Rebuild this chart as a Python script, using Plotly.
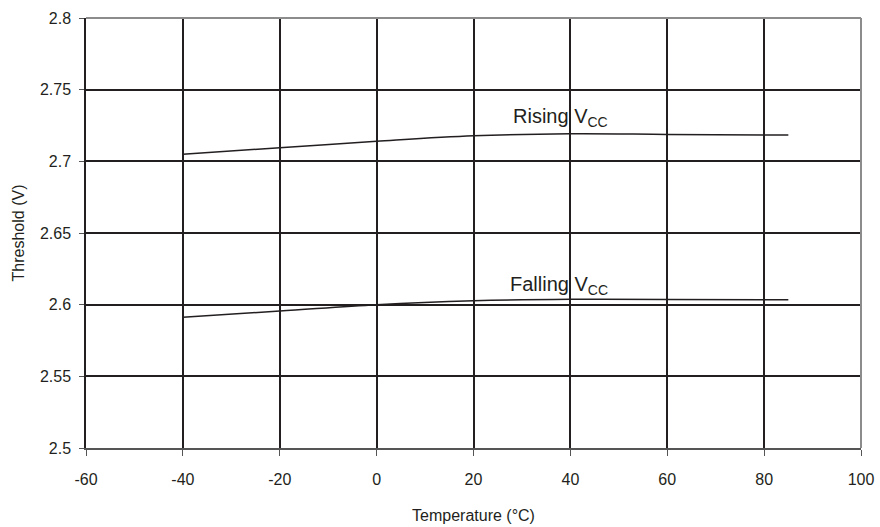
from plotly import graph_objects as go

temps = [-40, -20, 0, 20, 40, 60, 85]
rising_vcc = [2.705, 2.7095, 2.714, 2.7178, 2.7192, 2.7188, 2.7183]
falling_vcc = [2.5913, 2.5955, 2.600, 2.6027, 2.6037, 2.6036, 2.6034]

x_ticks = [-60, -40, -20, 0, 20, 40, 60, 80, 100]
x_labels = ['-60', '-40', '-20', '0', '20', '40', '60', '80', '100']
y_ticks = [2.5, 2.55, 2.6, 2.65, 2.7, 2.75, 2.8]
y_labels = ['2.5', '2.55', '2.6', '2.65', '2.7', '2.75', '2.8']

font_family = 'Liberation Sans, Arial, sans-serif'
ink = '#231f20'

fig = go.Figure(
    data=[
        go.Scatter(x=temps, y=rising_vcc, mode='lines',
                   line=dict(color=ink, width=1.5, shape='spline')),
        go.Scatter(x=temps, y=falling_vcc, mode='lines',
                   line=dict(color=ink, width=1.5, shape='spline')),
    ],
    layout=go.Layout(
        width=880,
        height=527,
        showlegend=False,
        plot_bgcolor='white',
        paper_bgcolor='white',
        font=dict(family=font_family, color=ink),
        margin=dict(l=86, r=19, t=18, b=79),
        xaxis=dict(
            range=[-60, 100],
            tickvals=x_ticks,
            ticktext=x_labels,
            automargin=False,
            showgrid=True,
            gridcolor=ink,
            gridwidth=1.5,
            zeroline=False,
            showline=True,
            linecolor='#555',
            linewidth=1.5,
            ticks='outside',
            ticklen=6,
            tickcolor='#555',
            ticklabelstandoff=10,
            tickfont=dict(size=16),
            title=dict(text='Temperature (°C)', font=dict(size=16), standoff=23),
        ),
        yaxis=dict(
            range=[2.5, 2.8],
            tickvals=y_ticks,
            ticktext=y_labels,
            automargin=False,
            showgrid=True,
            gridcolor=ink,
            gridwidth=1.5,
            zeroline=False,
            showline=True,
            linecolor=ink,
            linewidth=1.5,
            ticks='outside',
            ticklen=5,
            tickcolor='#555',
            ticklabelstandoff=5,
            tickfont=dict(size=16),
            title=dict(text='Threshold (V)', font=dict(size=16), standoff=11),
        ),
        shapes=[
            dict(type='line', xref='paper', yref='paper', x0=0, x1=1, y0=1, y1=1,
                 line=dict(color='#8c8c8c', width=2)),
            dict(type='line', xref='paper', yref='paper', x0=1, x1=1, y0=0, y1=1,
                 line=dict(color='#8c8c8c', width=2)),
        ],
        annotations=[
            dict(x=48.1, y=2.7206, text='Rising V<sub>CC</sub>', showarrow=False,
                 xanchor='right', yanchor='bottom', font=dict(size=20)),
            dict(x=48.1, y=2.6031, text='Falling V<sub>CC</sub>', showarrow=False,
                 xanchor='right', yanchor='bottom', font=dict(size=20)),
        ],
    ),
)

# drop the page's default body margin so the figure sits at the window corner
fig.write_html("out.html", config=dict(displayModeBar=False),
               post_script="document.body.style.margin='0';")
